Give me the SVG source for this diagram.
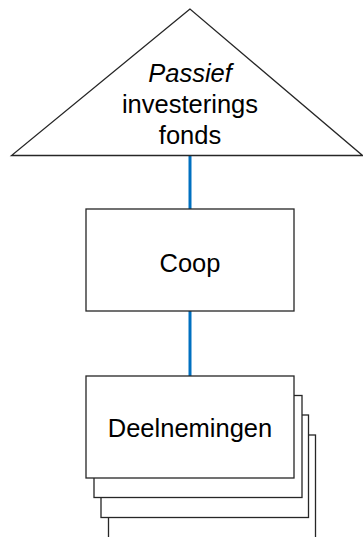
<svg xmlns="http://www.w3.org/2000/svg" width="363" height="537" viewBox="0 0 363 537">
<style>
.shape{fill:#ffffff;stroke:#262626;stroke-width:1.3}
.lbl{font-family:"Liberation Sans",Arial,sans-serif;font-size:25.5px;fill:#000000;text-anchor:middle}
.conn{stroke:#0070c0;stroke-width:3;fill:none}
</style>
<rect width="363" height="537" fill="#ffffff"/>
<g id="connectors">
<line class="conn" x1="190" y1="155" x2="190" y2="209"/>
<line class="conn" x1="190" y1="311" x2="190" y2="376"/>
</g>
<g id="fonds">
<polygon class="shape" points="190,9 11.5,155.5 362.5,155.5"/>
<text class="lbl" x="190" y="81.5" font-style="italic">Passief</text>
<text class="lbl" x="190" y="112.5">investerings</text>
<text class="lbl" x="190" y="143.5">fonds</text>
</g>
<g id="coop">
<rect class="shape" x="86" y="209" width="208" height="102"/>
<text class="lbl" x="190" y="271.5">Coop</text>
</g>
<g id="deelnemingen">
<rect class="shape" x="108.5" y="435" width="207" height="110"/>
<rect class="shape" x="101" y="415" width="207.5" height="102.5"/>
<rect class="shape" x="94" y="395.5" width="208" height="102"/>
<rect class="shape" x="86" y="376" width="208" height="102"/>
<text class="lbl" x="190" y="437">Deelnemingen</text>
</g>
</svg>
